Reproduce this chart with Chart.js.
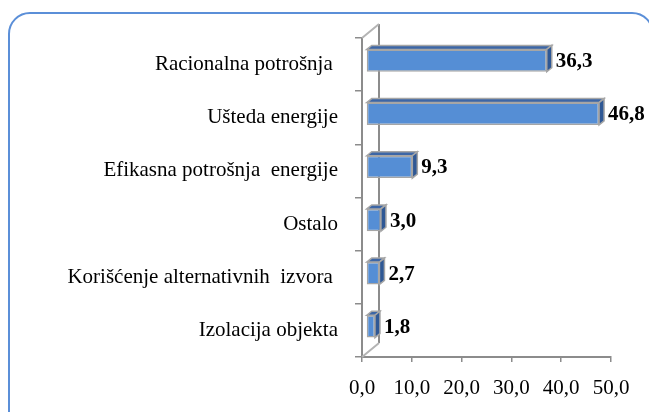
<!DOCTYPE html>
<html>
<head>
<meta charset="utf-8">
<script src="https://cdn.jsdelivr.net/npm/chart.js@4"></script>
<style>
	html, body { margin: 0; padding: 0; background: #fff; overflow: hidden; }
	.wrap { position: relative; width: 649px; height: 412px; overflow: hidden; }
	.frame {
		position: absolute; left: 8px; top: 12px; width: 646px; height: 430px;
		border: 2px solid #5b8fd8; border-radius: 22px; box-sizing: border-box;
	}
	#chart { position: absolute; left: 0; top: 0; }
</style>
</head>
<body>
<div class="wrap">
	<div class="frame"></div>
	<canvas id="chart" width="649" height="412"></canvas>
</div>
<script>
const categories = [
	'Racionalna potrošnja ',
	'Ušteda energije',
	'Efikasna potrošnja  energije',
	'Ostalo',
	'Korišćenje alternativnih  izvora ',
	'Izolacija objekta'
];
const values = [36.3, 46.8, 9.3, 3.0, 2.7, 1.8];
const xTicks = [0, 10, 20, 30, 40, 50];

function fmt(v) {
	return v.toFixed(1).replace('.', ',');
}

// 3d look: back wall + top/side faces of each bar
const depth3d = {
	id: 'depth3d',
	beforeDatasetsDraw(chart) {
		const c = chart.ctx;
		const a = chart.chartArea;
		const dx = 17, dy = -14;
		c.save();
		c.lineWidth = 2;
		c.strokeStyle = '#8c8c8c';
		c.beginPath();
		c.moveTo(a.left + dx, a.top + dy);
		c.lineTo(a.left + dx, a.bottom + dy);
		c.stroke();
		c.strokeStyle = '#b4b4b4';
		c.beginPath();
		c.moveTo(a.left, a.top);
		c.lineTo(a.left + dx, a.top + dy);
		c.moveTo(a.left, a.bottom);
		c.lineTo(a.left + dx, a.bottom + dy);
		c.stroke();
		c.restore();
		c.save();
		c.translate(4, -4);
	},
	afterDatasetsDraw(chart) {
		const c = chart.ctx;
		const meta = chart.getDatasetMeta(0);
		const ox = 5, oy = -4;
		meta.data.forEach((bar, i) => {
			const p = bar.getProps(['x', 'y', 'base', 'height'], true);
			const x0 = p.base, x1 = p.x;
			const top = p.y - p.height / 2, bot = p.y + p.height / 2;
			c.lineWidth = 1.5;
			c.strokeStyle = '#a6a6a6';
			c.fillStyle = '#3c66a6';
			c.beginPath();
			c.moveTo(x0, top);
			c.lineTo(x0 + ox, top + oy);
			c.lineTo(x1 + ox, top + oy);
			c.lineTo(x1, top);
			c.closePath();
			c.fill();
			c.stroke();
			c.fillStyle = '#2f5895';
			c.beginPath();
			c.moveTo(x1, top);
			c.lineTo(x1 + ox, top + oy);
			c.lineTo(x1 + ox, bot + oy);
			c.lineTo(x1, bot);
			c.closePath();
			c.fill();
			c.stroke();

			c.fillStyle = '#000';
			c.font = 'bold 21px "Liberation Serif"';
			c.textAlign = 'left';
			c.textBaseline = 'middle';
			c.fillText(fmt(values[i]), x1 + ox + 4, p.y + 1);
		});
		c.restore();
	}
};

Chart.defaults.font.family = '"Liberation Serif"';
Chart.defaults.color = '#000';

new Chart(document.getElementById('chart'), {
	type: 'bar',
	data: {
		labels: categories,
		datasets: [{
			data: values,
			backgroundColor: '#558ed5',
			borderColor: '#a6a6a6',
			borderWidth: 1.5,
			borderSkipped: false,
			barPercentage: 0.42,
			categoryPercentage: 1
		}]
	},
	options: {
		indexAxis: 'y',
		responsive: false,
		animation: false,
		devicePixelRatio: 1,
		layout: { padding: { left: 0, right: 38, top: 38, bottom: 0 } },
		plugins: {
			legend: { display: false },
			tooltip: { enabled: false }
		},
		scales: {
			x: {
				min: 0,
				max: 50,
				afterBuildTicks(scale) {
					scale.ticks = xTicks.map(v => ({ value: v }));
				},
				afterFit(scale) { scale.height = 55; },
				grid: { drawOnChartArea: false, drawTicks: true, tickLength: 5, color: '#8c8c8c', lineWidth: 1.5 },
				border: { display: true, color: '#8c8c8c', width: 2 },
				ticks: {
					font: { size: 21 },
					padding: 14,
					maxRotation: 0,
					callback: v => fmt(v)
				}
			},
			y: {
				afterFit(scale) { scale.width = 362; },
				grid: { drawOnChartArea: false, drawTicks: true, tickLength: 7, color: '#8c8c8c', lineWidth: 1.5, offset: true },
				border: { display: true, color: '#8c8c8c', width: 2 },
				ticks: { font: { size: 21 }, padding: 17 }
			}
		}
	},
	plugins: [depth3d]
});
</script>
</body>
</html>
